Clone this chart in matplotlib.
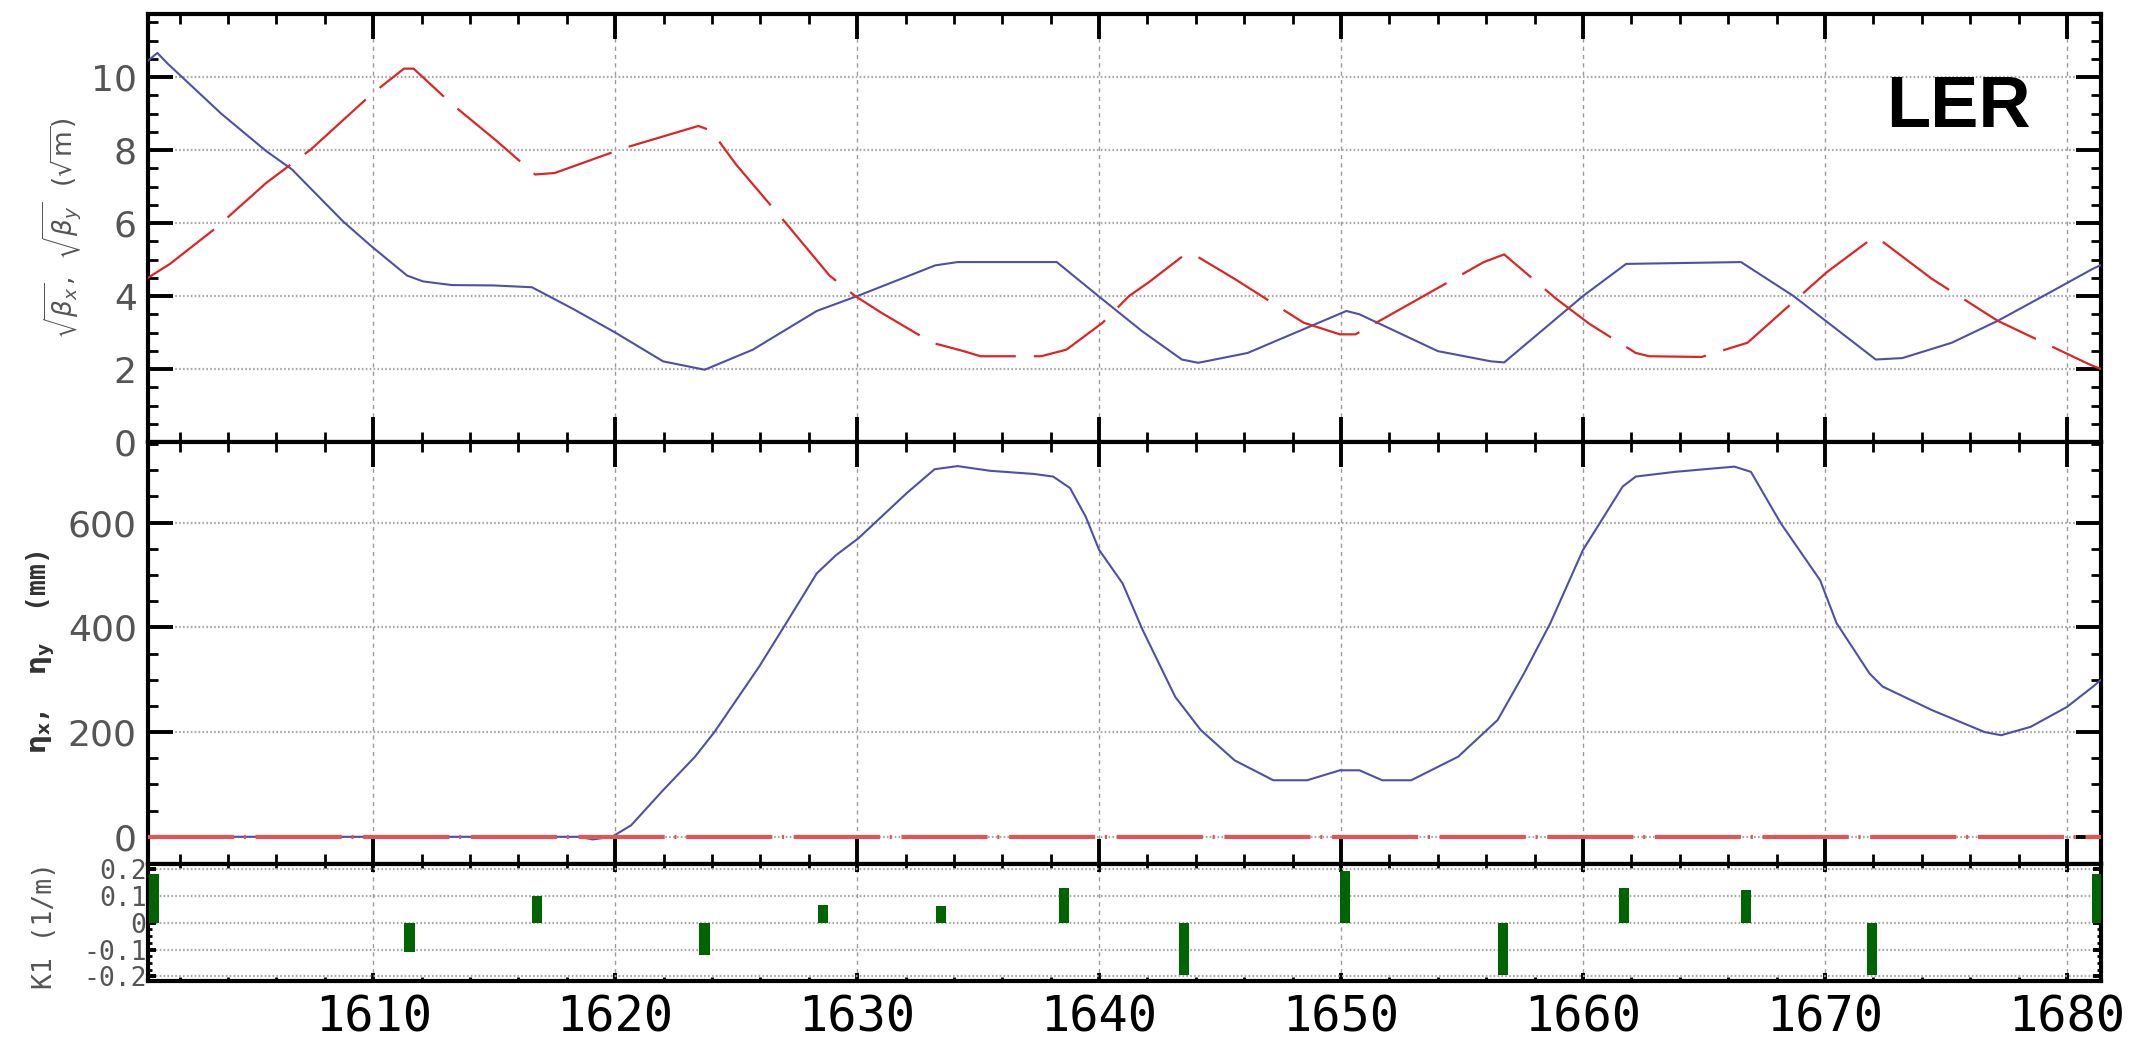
import numpy as np
import matplotlib.pyplot as plt
from matplotlib.ticker import MultipleLocator

plt.rcParams['lines.scale_dashes'] = False
plt.rcParams['mathtext.fontset'] = 'dejavusans'

# longitudinal position s (m)
s_min, s_max = 1600.69, 1681.41

# sqrt(beta_x)
sbx_s = [1600.69, 1601.08, 1601.5, 1603.73, 1605.58, 1606.64, 1608.76, 1609.95, 1611.4,
         1612.06, 1613.25, 1614.97, 1616.56, 1618.28, 1620.0, 1621.98, 1623.7, 1625.69,
         1628.33, 1630.05, 1633.23, 1634.15, 1638.25, 1639.97, 1641.77, 1643.42, 1644.1,
         1646.14, 1650.22, 1650.76, 1654.0, 1656.2, 1656.74, 1660.0, 1661.78, 1666.53,
         1668.7, 1672.1, 1673.2, 1675.24, 1677.14, 1679.3, 1681.08, 1681.41]
sbx = [10.45, 10.66, 10.37, 8.99, 7.97, 7.47, 6.04, 5.35, 4.56,
       4.40, 4.30, 4.29, 4.24, 3.64, 3.0, 2.21, 1.98, 2.53,
       3.59, 4.01, 4.84, 4.93, 4.93, 4.0, 3.04, 2.26, 2.17,
       2.44, 3.59, 3.5, 2.49, 2.21, 2.18, 4.0, 4.88, 4.93,
       4.0, 2.26, 2.30, 2.72, 3.32, 4.1, 4.75, 4.85]

# sqrt(beta_y)
sby_s = [1600.69, 1601.6, 1603.47, 1605.58, 1607.43, 1609.95, 1611.27, 1611.67, 1613.25,
         1615.1, 1616.69, 1617.5, 1620.4, 1623.44, 1623.97, 1625.0, 1627.0, 1628.86,
         1629.92, 1630.98, 1633.1, 1634.4, 1635.1, 1637.6, 1638.65, 1640.15, 1641.24,
         1642.06, 1643.55, 1643.96, 1645.6, 1648.45, 1649.95, 1650.6, 1653.2, 1655.9,
         1656.74, 1658.9, 1660.28, 1662.18, 1662.73, 1664.9, 1666.8, 1668.44, 1670.07,
         1671.97, 1672.24, 1674.42, 1677.14, 1680.95, 1681.41]
sby = [4.5, 4.88, 5.85, 7.1, 8.02, 9.54, 10.23, 10.23, 9.26,
       8.25, 7.33, 7.37, 8.06, 8.66, 8.53, 7.6, 6.04, 4.56,
       4.0, 3.55, 2.72, 2.49, 2.35, 2.35, 2.53, 3.27, 4.0,
       4.38, 5.14, 5.12, 4.47, 3.27, 2.95, 2.95, 3.92, 4.93,
       5.14, 3.92, 3.23, 2.44, 2.35, 2.33, 2.72, 3.69, 4.65,
       5.59, 5.56, 4.47, 3.32, 2.12, 2.0]

# dispersion eta_x (mm)
etax_s = [1600.69, 1618.5, 1619.07, 1619.87, 1620.66, 1621.98, 1623.3, 1624.1, 1625.95,
          1627.0, 1628.33, 1629.13, 1630.05, 1632.04, 1633.2, 1634.15, 1635.5, 1637.3,
          1638.1, 1638.8, 1639.45, 1640.0, 1640.97, 1641.8, 1643.15, 1644.2, 1645.6,
          1647.2, 1648.6, 1649.95, 1650.76, 1651.7, 1652.9, 1654.84, 1656.47, 1657.56,
          1658.65, 1660.0, 1661.64, 1662.18, 1663.8, 1666.26, 1666.94, 1668.17, 1669.8,
          1670.48, 1671.84, 1672.38, 1674.42, 1676.6, 1677.28, 1678.5, 1680.0, 1681.08,
          1681.41]
etax = [0, 0, -5, 0, 22, 89, 153, 200, 325,
        403, 503, 538, 570, 656, 702, 708, 699, 693,
        688, 666, 611, 548, 484, 395, 267, 204, 146,
        108, 108, 127, 127, 108, 108, 153, 223, 312,
        408, 548, 669, 688, 697, 707, 697, 599, 490,
        408, 312, 287, 242, 200, 194, 210, 248, 287,
        300]

# dispersion eta_y (mm)
etay_s = [1600.69, 1681.41]
etay = [0, 0]

# quadrupole strengths K1 (1/m)
k1_s = [1600.95, 1611.5, 1616.78, 1623.69, 1628.58, 1633.48, 1638.55, 1643.5,
        1650.18, 1656.7, 1661.69, 1666.74, 1671.94, 1681.25]
k1 = [0.18, -0.11, 0.10, -0.12, 0.065, 0.062, 0.13, -0.195,
      0.193, -0.195, 0.13, 0.12, -0.195, 0.18]

x_ticks = [1610, 1620, 1630, 1640, 1650, 1660, 1670, 1680]
k1_ticks = [-0.2, -0.1, 0, 0.1, 0.2]
k1_tick_labels = ['-0.2', '-0.1', '0', '0.1', '0.2']

BLUE = '#4f4fa8'
RED = '#dc2626'
GRAY_TXT = '#555555'


def style_axes(ax, major_len, minor_len):
    for sp in ax.spines.values():
        sp.set_linewidth(3.0)
    ax.set_xlim(s_min, s_max)
    ax.xaxis.set_major_locator(MultipleLocator(10))
    ax.xaxis.set_minor_locator(MultipleLocator(2))
    ax.tick_params(which='both', direction='in', top=True, right=True,
                   labelbottom=False, color='black')
    ax.tick_params(which='major', length=major_len, width=2.8)
    ax.tick_params(which='minor', length=minor_len, width=2.0)
    ax.tick_params(axis='y', labelsize=26, labelcolor=GRAY_TXT, pad=8)
    ax.grid(axis='x', which='major', color='#9c9c9c', linestyle=(0, (3, 3)), linewidth=1.0)
    ax.grid(axis='y', which='major', color='#a8a8a8', linestyle=(0, (1.2, 1.6)), linewidth=1.6)
    ax.set_axisbelow(True)


fig = plt.figure(figsize=(21.35, 10.41), dpi=100)
ax_b = fig.add_axes([0.0693, 0.5754, 0.9148, 0.4116])
ax_d = fig.add_axes([0.0693, 0.1700, 0.9148, 0.4054])
ax_k = fig.add_axes([0.0693, 0.0572, 0.9148, 0.1129])

# beta functions
style_axes(ax_b, 18, 7)
ax_b.plot(sbx_s, sbx, color=BLUE, lw=1.5, zorder=3)
ax_b.plot(sby_s, sby, color=RED, lw=1.6, linestyle=(0, (59, 13)), zorder=3)
ax_b.set_ylim(0, 11.74)
ax_b.yaxis.set_major_locator(MultipleLocator(2))
ax_b.yaxis.set_minor_locator(MultipleLocator(0.5))
ax_b.text(0.964, 0.735, 'LER', transform=ax_b.transAxes, ha='right', va='baseline',
          fontsize=52, fontweight='bold', family='Liberation Sans')

# dispersion
style_axes(ax_d, 18, 7)
ax_d.plot(etax_s, etax, color=BLUE, lw=1.5, zorder=3)
ax_d.plot(etay_s, etay, color='#e25555', lw=3.0, linestyle=(0, (62, 7, 1.5, 7)), zorder=4)
ax_d.set_ylim(-52, 754)
ax_d.yaxis.set_major_locator(MultipleLocator(200))
ax_d.yaxis.set_minor_locator(MultipleLocator(50))

# magnet strengths
style_axes(ax_k, 6, 3)
ax_k.bar(k1_s, k1, width=0.42, color='#006400', zorder=3)
ax_k.set_ylim(-0.219, 0.219)
ax_k.set_yticks(k1_ticks)
ax_k.set_yticklabels(k1_tick_labels, fontfamily='DejaVu Sans Mono', fontsize=19)
ax_k.yaxis.set_minor_locator(MultipleLocator(0.025))
ax_k.tick_params(axis='y', pad=1)
ax_k.set_xticks(x_ticks)
ax_k.set_xticklabels([str(t) for t in x_ticks], fontfamily='DejaVu Sans Mono', fontsize=35)
ax_k.tick_params(axis='x', labelbottom=True, pad=9, labelcolor='black')

# axis titles
fig.text(0.029, 0.781, r'$\sqrt{\beta_x}$,  $\sqrt{\beta_y}$  ($\sqrt{\mathrm{m}}$)',
         rotation=90, ha='center', va='center', fontsize=19, color=GRAY_TXT)
fig.text(0.019, 0.373, r'$\mathbf{\eta_x}$,  $\mathbf{\eta_y}$  (mm)',
         rotation=90, ha='center', va='center', fontsize=19, fontweight='bold',
         family='DejaVu Sans Mono', color='#333333')
fig.text(0.021, 0.111, 'K1 (1/m)', rotation=90, ha='center', va='center',
         fontsize=19, family='DejaVu Sans Mono', color=GRAY_TXT)

fig.savefig('out.png', dpi=100)
